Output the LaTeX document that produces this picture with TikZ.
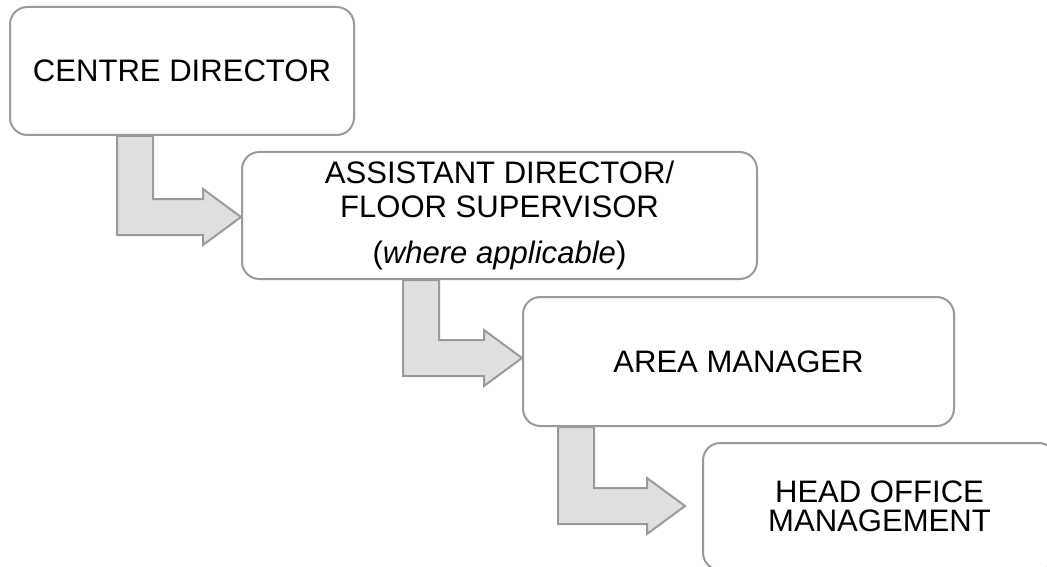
\documentclass[tikz,border=0pt]{standalone}
\usepackage{fontspec}
\setmainfont{Liberation Sans}
\usetikzlibrary{calc,backgrounds}

\definecolor{boxline}{HTML}{9A9A9A}
\definecolor{joinfill}{HTML}{E0E0E0}

% bent block arrow: start on a box bottom, tip at the next box
\newcommand{\bentarrow}[2]{%
    \draw[joinarrow] let \p1=(#1), \p2=(#2) in
        (\x1-13.5pt,\y1) -- (\x1-13.5pt,\y2-13.5pt) -- (\x2-28.5pt,\y2-13.5pt)
        -- (\x2-28.5pt,\y2-21pt) -- (\x2,\y2) -- (\x2-28.5pt,\y2+21pt)
        -- (\x2-28.5pt,\y2+13.5pt) -- (\x1+13.5pt,\y2+13.5pt) -- (\x1+13.5pt,\y1) -- cycle;}

\begin{document}
\begin{tikzpicture}[x=0.75pt, y=-0.75pt,
    box/.style={draw=boxline, line width=1.5pt, fill=white, rounded corners=13pt,
        align=center, inner sep=0pt, font=\fontsize{23.3}{25}\selectfont},
    joinarrow/.style={draw=boxline, fill=joinfill, line width=1.5pt, line join=miter}]
    \useasboundingbox (0,0) rectangle (1047,567);
    \node[box, minimum width=258pt, minimum height=96pt] (centre) at (182,71) {CENTRE DIRECTOR};
    \node[box, minimum width=386.25pt, minimum height=95.25pt] (assist) at (499.5,215.5)
        {ASSISTANT DIRECTOR/\\FLOOR SUPERVISOR\\[9.5pt](\textit{where applicable})};
    \node[box, minimum width=323.25pt, minimum height=96.75pt] (area) at (738.5,361.5) {AREA MANAGER};
    \node[box, minimum width=264.75pt, minimum height=95.25pt,
        font=\fontsize{23.3}{21.75}\selectfont] (head) at (879.5,506.5) {HEAD OFFICE\\MANAGEMENT};
    \coordinate (j1) at (135,217);
    \coordinate (j2) at (421,358);
    \coordinate (j3) at (576,506);
    \coordinate (t3) at (685,506);
    \begin{scope}[on background layer]
        \bentarrow{centre.south -| j1}{assist.west |- j1}
        \bentarrow{assist.south -| j2}{area.west |- j2}
        \bentarrow{area.south -| j3}{t3}
    \end{scope}
\end{tikzpicture}
\end{document}
